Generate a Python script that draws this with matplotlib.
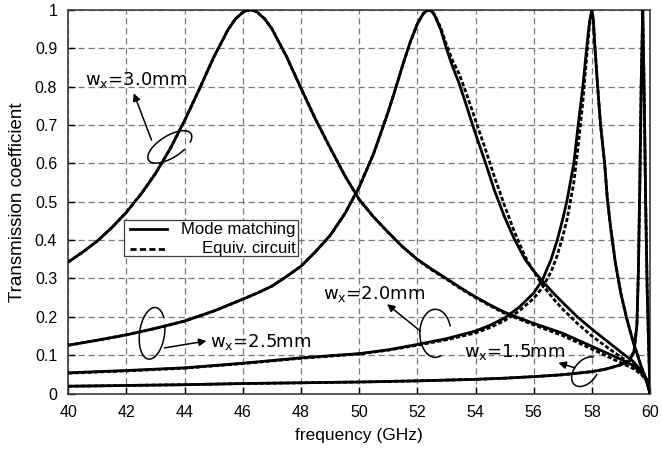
import matplotlib
matplotlib.use('Agg')
import matplotlib.pyplot as plt
import matplotlib.transforms as mtransforms
from matplotlib.patches import Arc, Rectangle

# transmission curves (frequency in GHz)
# w_x = 3.0 mm
A_f  = [40, 40.5, 41, 41.5, 42, 42.5, 43, 43.5, 44, 44.5, 45, 45.5, 45.75, 46, 46.1, 46.25,
        46.4, 46.5, 46.75, 47, 47.5, 48, 48.5, 49, 49.5, 50, 50.5, 51, 51.5, 52, 52.5, 53,
        53.5, 54, 54.5, 55, 55.5, 56, 57, 58, 58.5, 59, 59.4, 59.7, 59.9, 60]
A_mm = [0.343, 0.369, 0.398, 0.433, 0.473, 0.520, 0.574, 0.638, 0.712, 0.793, 0.877, 0.950,
        0.977, 0.994, 0.998, 1.0, 0.998, 0.994, 0.977, 0.951, 0.879, 0.796, 0.715, 0.641,
        0.569, 0.506, 0.460, 0.420, 0.382, 0.350, 0.324, 0.300, 0.275, 0.252, 0.231, 0.212,
        0.197, 0.183, 0.157, 0.123, 0.106, 0.089, 0.074, 0.055, 0.035, 0.0]
A_ec = [0.343, 0.369, 0.398, 0.433, 0.473, 0.520, 0.574, 0.638, 0.712, 0.793, 0.877, 0.950,
        0.977, 0.994, 0.998, 1.0, 0.998, 0.994, 0.977, 0.951, 0.879, 0.796, 0.715, 0.641,
        0.569, 0.506, 0.460, 0.420, 0.382, 0.349, 0.322, 0.298, 0.273, 0.250, 0.229, 0.209,
        0.194, 0.179, 0.151, 0.116, 0.098, 0.080, 0.066, 0.050, 0.032, 0.0]

# w_x = 2.5 mm
B_f  = [40, 41, 42, 43, 44, 45, 46, 46.5, 47, 47.5, 48, 48.5, 49, 49.5, 50, 50.5, 51, 51.25,
        51.5, 51.75, 52, 52.2, 52.3, 52.4, 52.5, 52.6, 52.8, 53, 53.2, 53.43, 53.65, 53.9,
        54.1, 54.35, 54.65, 55, 55.32, 55.7, 56, 56.3, 56.7, 57, 57.5, 58, 58.5, 59, 59.4,
        59.7, 59.9, 60]
B_mm = [0.126, 0.139, 0.153, 0.170, 0.189, 0.215, 0.246, 0.262, 0.280, 0.305, 0.332, 0.370,
        0.412, 0.468, 0.538, 0.626, 0.735, 0.795, 0.857, 0.915, 0.964, 0.990, 0.997, 1.0,
        0.996, 0.985, 0.950, 0.900, 0.855, 0.810, 0.760, 0.700, 0.655, 0.600, 0.530, 0.460,
        0.405, 0.350, 0.320, 0.293, 0.260, 0.237, 0.200, 0.168, 0.138, 0.108, 0.085, 0.060,
        0.035, 0.0]
B_ec = [0.126, 0.139, 0.153, 0.170, 0.189, 0.215, 0.246, 0.262, 0.280, 0.305, 0.332, 0.370,
        0.412, 0.468, 0.538, 0.626, 0.735, 0.795, 0.857, 0.915, 0.964, 0.990, 0.997, 1.0,
        0.997, 0.987, 0.955, 0.910, 0.870, 0.835, 0.790, 0.735, 0.690, 0.635, 0.565, 0.490,
        0.425, 0.358, 0.318, 0.283, 0.245, 0.220, 0.183, 0.150, 0.122, 0.095, 0.075, 0.053,
        0.031, 0.0]

# w_x = 2.0 mm
C_f  = [40, 42, 44, 46, 48, 50, 51, 52, 53, 54, 54.5, 55, 55.5, 56, 56.3, 56.6, 56.81, 57,
        57.15, 57.38, 57.53, 57.69, 57.82, 57.92, 58, 58.05, 58.1, 58.2, 58.3, 58.44, 58.53,
        58.65, 58.81, 59, 59.2, 59.4, 59.55, 59.7, 59.85, 60]
C_mm = [0.054, 0.060, 0.067, 0.079, 0.093, 0.104, 0.114, 0.128, 0.143, 0.163, 0.178, 0.197,
        0.225, 0.262, 0.296, 0.350, 0.400, 0.455, 0.505, 0.600, 0.700, 0.800, 0.900, 0.970,
        1.0, 0.975, 0.910, 0.800, 0.700, 0.600, 0.510, 0.430, 0.340, 0.260, 0.195, 0.140,
        0.105, 0.070, 0.040, 0.0]
C_ec = [0.053, 0.059, 0.066, 0.078, 0.092, 0.103, 0.113, 0.126, 0.140, 0.158, 0.172, 0.190,
        0.215, 0.248, 0.276, 0.318, 0.360, 0.410, 0.455, 0.550, 0.645, 0.760, 0.875, 0.960,
        1.0, 0.975, 0.910, 0.800, 0.700, 0.600, 0.510, 0.430, 0.340, 0.260, 0.195, 0.140,
        0.105, 0.070, 0.040, 0.0]

# w_x = 1.5 mm
D_f  = [40, 42, 44, 46, 48, 50, 52, 54, 55, 56, 57, 58, 58.5, 59, 59.3, 59.45, 59.55, 59.6,
        59.65, 59.7, 59.75, 59.8, 59.85, 59.9, 59.95, 60]
D_mm = [0.019, 0.021, 0.023, 0.026, 0.028, 0.030, 0.033, 0.037, 0.040, 0.044, 0.049, 0.057,
        0.064, 0.075, 0.086, 0.110, 0.180, 0.320, 0.550, 0.820, 1.0, 0.780, 0.500, 0.280,
        0.130, 0.0]
D_ec = [0.019, 0.021, 0.023, 0.026, 0.028, 0.030, 0.033, 0.037, 0.040, 0.044, 0.049, 0.057,
        0.064, 0.075, 0.086, 0.110, 0.180, 0.320, 0.550, 0.820, 1.0, 0.780, 0.500, 0.280,
        0.130, 0.0]

x_ticks = [40, 42, 44, 46, 48, 50, 52, 54, 56, 58, 60]
y_ticks = [0, 0.1, 0.2, 0.3, 0.4, 0.5, 0.6, 0.7, 0.8, 0.9, 1]
y_labels = ['0', '0.1', '0.2', '0.3', '0.4', '0.5', '0.6', '0.7', '0.8', '0.9', '1']

plt.rcParams['font.family'] = ['Liberation Sans', 'DejaVu Sans']

fig = plt.figure(figsize=(6.62, 4.53), dpi=100)
ax = fig.add_axes([0.1032, 0.1313, 0.8787, 0.8466])

SOLID = dict(color='black', lw=2.0, solid_capstyle='round', solid_joinstyle='round', zorder=3)
DASH = dict(color='black', lw=2.0, linestyle=(0, (1.5, 0.8)), zorder=4)

for f, mm, ec in [(A_f, A_mm, A_ec), (B_f, B_mm, B_ec), (C_f, C_mm, C_ec), (D_f, D_mm, D_ec)]:
    ax.plot(f, mm, **SOLID)
    ax.plot(f, ec, **DASH)

ax.set_xlim(40, 60)
ax.set_ylim(0, 1)
ax.set_xticks(x_ticks)
ax.set_yticks(y_ticks)
ax.set_yticklabels(y_labels)
ax.tick_params(direction='in', length=5, width=1, labelsize=11.5, pad=8)
ax.grid(True, color='#7a7a7a', lw=0.9, linestyle=(0, (5, 3)))
for s in ax.spines.values():
    s.set_color('#3c3c3c')
    s.set_linewidth(1.2)

ax.set_xlabel('frequency (GHz)', fontsize=12.5, labelpad=6)
ax.set_ylabel('Transmission coefficient', fontsize=13.5, labelpad=6)

# legend, drawn by hand so the labels sit right-aligned
ax.add_patch(Rectangle((0.0958, 0.3585), 0.2992, 0.0935, transform=ax.transAxes,
                       facecolor='white', edgecolor='#3c3c3c', lw=0.9, zorder=6))
ax.plot([0.106, 0.169], [0.428, 0.428], transform=ax.transAxes, color='black', lw=2.0, zorder=7)
ax.plot([0.106, 0.169], [0.378, 0.378], transform=ax.transAxes, color='black', lw=2.0,
        linestyle=(0, (2.2, 1.2)), zorder=7)
ax.text(0.391, 0.428, 'Mode matching', transform=ax.transAxes, ha='right', va='center',
        fontsize=12, zorder=7)
ax.text(0.391, 0.378, 'Equiv. circuit', transform=ax.transAxes, ha='right', va='center',
        fontsize=12, zorder=7)

# labels, loops and arrows
lab_font = dict(fontsize=13, family='DejaVu Sans', va='baseline', ha='left', zorder=8)
ax.text(40.58, 0.804, r'w$_\mathregular{x}$=3.0mm', **lab_font)
ax.text(44.86, 0.122, r'w$_\mathregular{x}$=2.5mm', **lab_font)
ax.text(48.75, 0.2456, r'w$_\mathregular{x}$=2.0mm', **lab_font)
ax.text(53.61, 0.096, r'w$_\mathregular{x}$=1.5mm', **lab_font)

loops = [  # centre f, centre T, width in, height in, angle, theta1, theta2
    (43.49, 0.643, 0.50, 0.22, 32, -20, 320),
    (42.88, 0.157, 0.25, 0.52, -8, 60, 400),
    (52.62, 0.157, 0.31, 0.48, 0, 25, 285),
    (57.78, 0.057, 0.34, 0.22, 50, 10, 300),
]
for cf, cv, w, h, ang, t1, t2 in loops:
    tr = fig.dpi_scale_trans + mtransforms.ScaledTranslation(cf, cv, ax.transData)
    ax.add_patch(Arc((0, 0), w, h, angle=ang, theta1=t1, theta2=t2, transform=tr,
                     color='black', lw=1.1, zorder=8))

arrows = [  # tail -> head
    ((42.86, 0.661), (42.25, 0.783)),
    ((43.31, 0.119), (44.75, 0.137)),
    ((52.10, 0.163), (50.96, 0.233)),
    ((57.42, 0.067), (56.85, 0.080)),
]
for tail, head in arrows:
    ax.annotate('', xy=head, xytext=tail,
                arrowprops=dict(arrowstyle='-|>', color='black', lw=1.1,
                                mutation_scale=11, shrinkA=0, shrinkB=0), zorder=8)

fig.savefig('out.png', dpi=100)
